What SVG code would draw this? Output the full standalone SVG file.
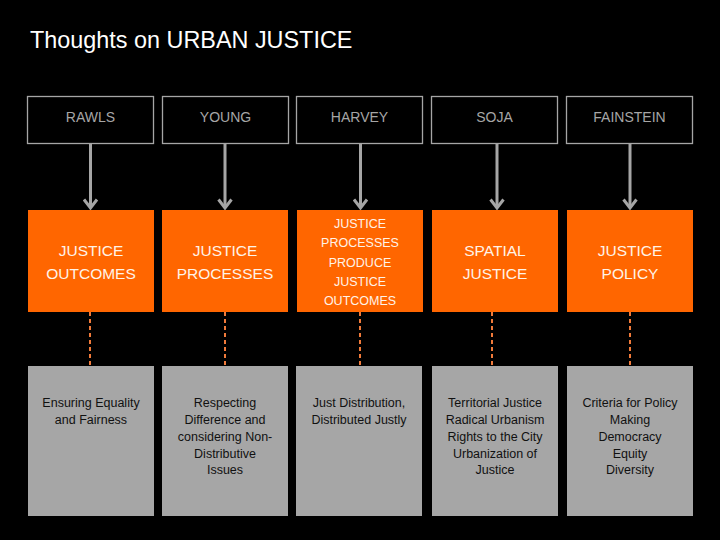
<svg xmlns="http://www.w3.org/2000/svg" width="720" height="540" viewBox="0 0 720 540">
<defs>
<style>
.bg{fill:#000}
.title{font-family:"Liberation Sans",Arial,sans-serif;font-size:23.4px;fill:#ffffff}
.tbox{fill:#000;stroke:#a6a6a6;stroke-width:1.3}
.tlab{font-family:"Liberation Sans",Arial,sans-serif;font-size:14px;fill:#a6a6a6;text-anchor:middle}
.obox{fill:#ff6600}
.olab{font-family:"Liberation Sans",Arial,sans-serif;font-size:15.5px;fill:#fff3e8;text-anchor:middle}
.olab5{font-family:"Liberation Sans",Arial,sans-serif;font-size:12.5px;fill:#fff3e8;text-anchor:middle}
.gbox{fill:#a6a6a6}
.glab{font-family:"Liberation Sans",Arial,sans-serif;font-size:12.5px;fill:#111;text-anchor:middle}
.arrow{stroke:#a6a6a6;stroke-width:3;fill:none;marker-end:url(#ah)}
.dash{stroke:#f07a3a;stroke-width:2;stroke-dasharray:4 3;fill:none}
</style>
<marker id="ah" viewBox="0 0 12 16" refX="10" refY="8" markerWidth="12" markerHeight="16" markerUnits="userSpaceOnUse" orient="auto">
<path d="M1.5,1.5 L10,8 L1.5,14.5" fill="none" stroke="#a6a6a6" stroke-width="3"/>
</marker>
</defs>
<rect class="bg" x="0" y="0" width="720" height="540"/>
<text class="title" x="30" y="48">Thoughts on URBAN JUSTICE</text>

<g id="connectors">
<line class="arrow" x1="90.5" y1="144" x2="90.5" y2="208"/>
<line class="arrow" x1="225" y1="144" x2="225" y2="208"/>
<line class="arrow" x1="360.5" y1="144" x2="360.5" y2="208"/>
<line class="arrow" x1="497" y1="144" x2="497" y2="208"/>
<line class="arrow" x1="630" y1="144" x2="630" y2="208"/>
<line class="dash" x1="90" y1="312" x2="90" y2="366"/>
<line class="dash" x1="225" y1="312" x2="225" y2="366"/>
<line class="dash" x1="360" y1="312" x2="360" y2="366"/>
<line class="dash" x1="492" y1="312" x2="492" y2="366"/>
<line class="dash" x1="630" y1="312" x2="630" y2="366"/>
</g>

<g id="rawls"><rect class="tbox" x="27.5" y="96.5" width="126" height="47"/><text class="tlab" x="90.5" y="122">RAWLS</text></g>
<g id="young"><rect class="tbox" x="162.5" y="96.5" width="126" height="47"/><text class="tlab" x="225.5" y="122">YOUNG</text></g>
<g id="harvey"><rect class="tbox" x="296.5" y="96.5" width="126" height="47"/><text class="tlab" x="359.5" y="122">HARVEY</text></g>
<g id="soja"><rect class="tbox" x="431.5" y="96.5" width="126" height="47"/><text class="tlab" x="494.5" y="122">SOJA</text></g>
<g id="fainstein"><rect class="tbox" x="566.5" y="96.5" width="126" height="47"/><text class="tlab" x="629.5" y="122">FAINSTEIN</text></g>

<g id="outcomes"><rect class="obox" x="28" y="210" width="126" height="102"/><text class="olab" x="91" y="256">JUSTICE</text><text class="olab" x="91" y="279">OUTCOMES</text></g>
<g id="processes"><rect class="obox" x="162" y="210" width="126" height="102"/><text class="olab" x="225" y="256">JUSTICE</text><text class="olab" x="225" y="279">PROCESSES</text></g>
<g id="produce"><rect class="obox" x="297" y="210" width="126" height="102"/><text class="olab5" x="360" y="228">JUSTICE</text><text class="olab5" x="360" y="247">PROCESSES</text><text class="olab5" x="360" y="267">PRODUCE</text><text class="olab5" x="360" y="286">JUSTICE</text><text class="olab5" x="360" y="305">OUTCOMES</text></g>
<g id="spatial"><rect class="obox" x="432" y="210" width="126" height="102"/><text class="olab" x="495" y="256">SPATIAL</text><text class="olab" x="495" y="279">JUSTICE</text></g>
<g id="policy"><rect class="obox" x="567" y="210" width="126" height="102"/><text class="olab" x="630" y="256">JUSTICE</text><text class="olab" x="630" y="279">POLICY</text></g>

<g id="equality"><rect class="gbox" x="28" y="366" width="126" height="150"/><text class="glab" x="91" y="407">Ensuring Equality</text><text class="glab" x="91" y="424">and Fairness</text></g>
<g id="difference"><rect class="gbox" x="162" y="366" width="126" height="150"/><text class="glab" x="225" y="407">Respecting</text><text class="glab" x="225" y="424">Difference and</text><text class="glab" x="225" y="441">considering Non-</text><text class="glab" x="225" y="458">Distributive</text><text class="glab" x="225" y="474">Issues</text></g>
<g id="distribution"><rect class="gbox" x="296" y="366" width="126" height="150"/><text class="glab" x="359" y="407">Just Distribution,</text><text class="glab" x="359" y="424">Distributed Justly</text></g>
<g id="territorial"><rect class="gbox" x="432" y="366" width="126" height="150"/><text class="glab" x="495" y="407">Territorial Justice</text><text class="glab" x="495" y="424">Radical Urbanism</text><text class="glab" x="495" y="441">Rights to the City</text><text class="glab" x="495" y="458">Urbanization of</text><text class="glab" x="495" y="474">Justice</text></g>
<g id="criteria"><rect class="gbox" x="567" y="366" width="126" height="150"/><text class="glab" x="630" y="407">Criteria for Policy</text><text class="glab" x="630" y="424">Making</text><text class="glab" x="630" y="441">Democracy</text><text class="glab" x="630" y="458">Equity</text><text class="glab" x="630" y="474">Diversity</text></g>
</svg>
